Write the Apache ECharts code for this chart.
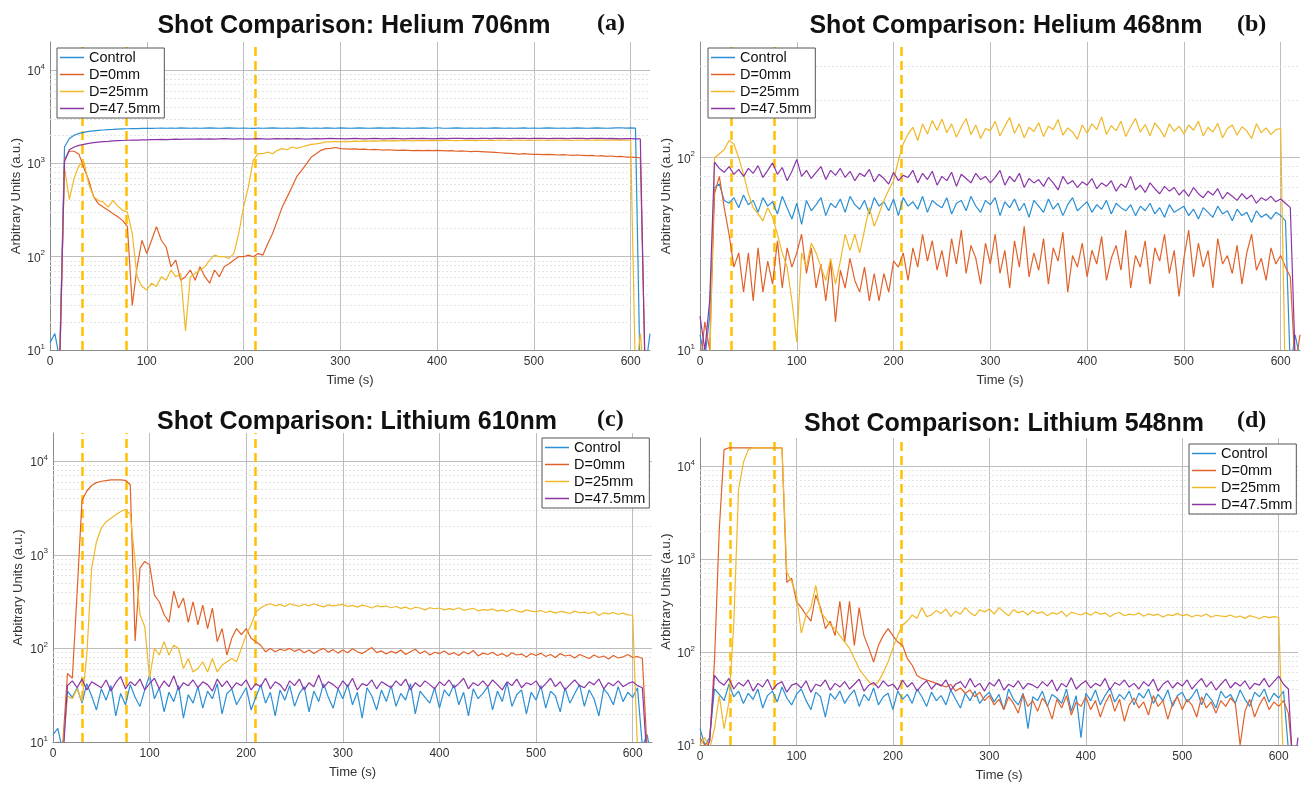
<!DOCTYPE html>
<html>
<head>
<meta charset="utf-8">
<script src="https://cdn.jsdelivr.net/npm/echarts@6/dist/echarts.min.js"></script>
<style>
  html, body { margin: 0; padding: 0; background: #fff; }
  #chart { width: 1303px; height: 785px; }
</style>
</head>
<body>
<div id="chart"></div>
<script>
const seriesNames = ['Control', 'D=0mm', 'D=25mm', 'D=47.5mm'];
const colors = ['#2a8fd4', '#e0622a', '#f0b828', '#8b36a6'];

// sample times (s)
const time = [
  0, 5, 10, 15, 20, 25, 30, 35, 40, 45,
  50, 55, 60, 65, 70, 75, 80, 85, 90, 95,
  100, 105, 110, 115, 120, 125, 130, 135, 140, 145,
  150, 155, 160, 165, 170, 175, 180, 185, 190, 195,
  200, 205, 210, 215, 220, 225, 230, 235, 240, 245,
  250, 255, 260, 265, 270, 275, 280, 285, 290, 295,
  300, 305, 310, 315, 320, 325, 330, 335, 340, 345,
  350, 355, 360, 365, 370, 375, 380, 385, 390, 395,
  400, 405, 410, 415, 420, 425, 430, 435, 440, 445,
  450, 455, 460, 465, 470, 475, 480, 485, 490, 495,
  500, 505, 510, 515, 520, 525, 530, 535, 540, 545,
  550, 555, 560, 565, 570, 575, 580, 585, 590, 595,
  600, 605, 610, 615, 620
];

// (a) Helium 706nm
const aControl = [
  12, 15, 8, 1500, 1850, 2000, 2100, 2150, 2200, 2230,
  2260, 2280, 2300, 2310, 2330, 2340, 2350, 2360, 2360, 2370,
  2380, 2370, 2380, 2390, 2380, 2390, 2380, 2400, 2390, 2380,
  2390, 2380, 2390, 2400, 2390, 2380, 2390, 2400, 2390, 2380,
  2390, 2380, 2370, 2390, 2380, 2390, 2400, 2390, 2380, 2390,
  2380, 2390, 2400, 2390, 2380, 2390, 2380, 2400, 2390, 2380,
  2400, 2390, 2380, 2390, 2400, 2390, 2380, 2390, 2400, 2390,
  2390, 2400, 2390, 2380, 2390, 2380, 2390, 2400, 2390, 2380,
  2410, 2390, 2380, 2390, 2400, 2390, 2380, 2390, 2380, 2390,
  2380, 2390, 2400, 2390, 2380, 2390, 2380, 2390, 2400, 2380,
  2390, 2380, 2390, 2400, 2390, 2380, 2390, 2380, 2390, 2400,
  2390, 2380, 2390, 2400, 2390, 2380, 2390, 2400, 2410, 2390,
  2400, 2390, 4, 6, 15
];
const aD0 = [
  5, 8, 6, 1100, 1350, 1350, 1250, 900, 660, 440,
  370, 340, 315, 290, 268, 245, 210, 30, 78, 150,
  108, 150, 210, 150, 127, 78, 92, 56, 61, 72,
  56, 78, 61, 52, 72, 61, 78, 84, 92, 100,
  100, 104, 100, 108, 104, 138, 177, 245, 340, 435,
  560, 720, 840, 990, 1170, 1270, 1380, 1440, 1450, 1480,
  1440, 1430, 1420, 1430, 1410, 1420, 1400, 1410, 1400, 1390,
  1400, 1390, 1380, 1390, 1380, 1370, 1380, 1370, 1380, 1370,
  1380, 1370, 1360, 1370, 1350, 1360, 1350, 1340, 1350, 1340,
  1330, 1320, 1310, 1300, 1290, 1280, 1270, 1260, 1270, 1260,
  1250, 1250, 1240, 1250, 1240, 1230, 1240, 1230, 1220, 1230,
  1220, 1210, 1220, 1200, 1210, 1190, 1200, 1180, 1190, 1170,
  1170, 1160, 1150, 6, 4
];
const aD25 = [
  4, 6, 8, 900, 410, 700, 950, 1050, 600, 440,
  400, 385, 340, 400, 350, 315, 300, 177, 61, 48,
  44, 52, 48, 61, 56, 72, 61, 66, 16, 61,
  66, 72, 78, 92, 104, 100, 100, 96, 108, 177,
  340, 560, 1080, 1270, 1270, 1320, 1270, 1380, 1440, 1400,
  1500, 1450, 1500, 1550, 1600, 1620, 1650, 1700, 1700, 1720,
  1700, 1720, 1710, 1730, 1720, 1740, 1730, 1740, 1730, 1750,
  1740, 1750, 1740, 1760, 1750, 1740, 1760, 1750, 1760, 1750,
  1760, 1750, 1770, 1760, 1750, 1760, 1770, 1760, 1750, 1770,
  1760, 1770, 1760, 1780, 1770, 1760, 1770, 1780, 1770, 1760,
  1770, 1780, 1770, 1760, 1780, 1770, 1780, 1770, 1760, 1780,
  1770, 1780, 1770, 1790, 1780, 1770, 1780, 1790, 1780, 1770,
  1770, 5, 15, 4, 3
];
const aD47 = [
  6, 9, 7, 1050, 1400, 1500, 1560, 1600, 1640, 1670,
  1690, 1710, 1720, 1740, 1750, 1760, 1770, 1780, 1780, 1790,
  1790, 1800, 1800, 1810, 1800, 1810, 1820, 1810, 1820, 1820,
  1820, 1830, 1820, 1830, 1820, 1830, 1840, 1830, 1820, 1830,
  1830, 1820, 1830, 1840, 1830, 1820, 1830, 1840, 1830, 1840,
  1830, 1840, 1830, 1820, 1830, 1840, 1830, 1840, 1850, 1840,
  1840, 1830, 1840, 1850, 1840, 1830, 1840, 1850, 1840, 1830,
  1840, 1850, 1840, 1830, 1840, 1850, 1840, 1850, 1840, 1830,
  1840, 1850, 1840, 1850, 1860, 1850, 1840, 1850, 1840, 1850,
  1850, 1840, 1850, 1860, 1850, 1840, 1850, 1860, 1850, 1840,
  1850, 1860, 1850, 1840, 1850, 1860, 1850, 1840, 1850, 1860,
  1850, 1840, 1850, 1860, 1850, 1840, 1850, 1840, 1830, 1840,
  1840, 1830, 1830, 5, 7
];

// (b) Helium 468nm
const bControl = [
  12, 9, 15, 70, 73, 60, 58, 62, 55, 64,
  57, 60, 52, 62, 56, 59, 51, 63, 55, 48,
  58, 45, 60, 53, 57, 62, 50, 58, 55, 61,
  52, 63, 57, 54, 60, 51, 62, 56, 59, 53,
  61, 50, 62, 56, 59, 54, 63, 52, 60, 57,
  55, 62, 51, 58, 60, 53, 63, 56, 52, 60,
  57, 62, 50, 59, 55, 61, 53, 58, 49, 60,
  56, 52, 61, 54, 58, 50, 57, 62, 53, 56,
  59, 52, 57, 54, 60, 51, 58, 55, 53, 57,
  50, 56, 53, 58, 51, 55, 49, 57, 52, 54,
  56, 50, 54, 48, 55, 52, 49, 56, 51, 53,
  47, 54, 50, 52, 46, 53, 49, 51, 48, 52,
  50, 47, 8, 12, 9
];
const bD0 = [
  8, 14, 10, 65, 80, 55, 40, 27, 32, 20,
  32, 18, 34, 20, 29, 22, 37, 21, 34, 27,
  32, 40, 25, 34, 21, 28, 18, 29, 14, 26,
  21, 30, 23, 20, 27, 18, 25, 18, 25, 20,
  29, 27, 32, 23, 34, 27, 40, 29, 37, 26,
  33, 24, 38, 28, 42, 25, 35, 30, 22, 36,
  28, 40, 25, 33, 21, 37, 27, 44, 24, 32,
  26, 38, 22, 34, 29, 41, 20, 31, 27, 36,
  24, 33, 28, 39, 23, 30, 35, 26, 42, 21,
  31, 27, 37, 22, 34, 29, 40, 25, 33, 19,
  30, 42, 24, 36, 27, 33, 21, 38, 28, 31,
  25, 35, 22, 32, 40, 26, 30, 23, 34, 28,
  31, 27, 24, 8, 12
];
const bD25 = [
  5, 7, 8, 100, 105, 110, 123, 118, 100, 82,
  65, 55, 51, 47, 55, 49, 40, 32, 27, 18,
  11, 32, 27, 36, 32, 27, 23, 30, 22, 29,
  40, 33, 40, 32, 42, 55, 44, 51, 60, 68,
  76, 97, 118, 133, 144, 123, 150, 133, 156, 139,
  159, 135, 150, 128, 145, 160, 132, 148, 126, 142,
  138, 155, 130, 146, 162, 134, 150, 127, 144, 137,
  152, 129, 146, 140, 158, 131, 143, 136, 125, 148,
  134, 150, 140, 163, 132, 147, 138, 155, 129, 145,
  160, 136, 149, 130, 152, 141, 128, 150, 137, 146,
  133, 148, 139, 155, 130, 144, 136, 151, 127, 142,
  148, 131, 145, 138, 126, 150, 135, 143, 132, 140,
  142, 6, 10, 4, 3
];
const bD47 = [
  15, 10, 18, 95, 88, 84, 90, 82, 87, 80,
  88, 83, 91, 79, 86, 94, 82, 89, 76, 85,
  98, 80, 86, 78, 84, 90, 77, 86, 81, 88,
  79, 85, 76, 83, 80, 87, 75, 82, 78, 73,
  84, 76, 81, 79, 86, 74, 83, 77, 85, 72,
  80, 76, 84, 71, 82, 78, 74, 83, 77, 80,
  74, 79, 86, 72, 80, 75, 83, 70, 78, 74,
  77, 71, 79, 74, 68, 80, 73, 76, 70, 75,
  72, 78, 69, 74, 71, 76, 67, 73, 70, 80,
  68, 72, 66, 74, 69, 65, 71, 67, 70, 64,
  68, 63, 70, 65, 62, 67, 64, 69, 61, 66,
  63, 60, 65, 61, 64, 58, 62, 60, 63, 59,
  61, 58, 55, 9, 7
];

// (c) Lithium 610nm
const cControl = [
  12, 14, 8, 35, 30, 38, 26, 42, 31, 22,
  37, 28, 40, 19, 33, 25, 41, 30, 24, 36,
  52, 29, 38, 21, 34, 27, 40, 18, 32, 26,
  39, 23, 35, 29, 42, 20, 33, 37, 25, 31,
  38, 22, 30, 41, 26, 34, 19, 36, 28, 40,
  24, 33, 39, 21, 35, 27, 42, 30, 23, 37,
  29, 41, 25, 34, 18, 38, 31, 22, 36, 27,
  40, 24, 33, 28, 42, 20, 35, 30, 26, 38,
  23, 36, 31, 41, 25, 34, 19, 37, 29, 33,
  39, 22, 35, 27, 43, 24, 32, 36, 20, 34,
  28, 40, 23, 35, 31, 21, 38, 26, 33, 41,
  24, 36, 29, 19, 37, 32, 25, 39, 27, 34,
  30, 38, 9, 12, 6
];
const cD0 = [
  6, 8, 9, 54, 48, 400, 3800, 4800, 5500, 5900,
  6100, 6200, 6300, 6300, 6300, 6250, 5600, 120, 720, 850,
  780, 370, 315, 230, 190, 410, 270, 345, 190, 315,
  178, 290, 163, 270, 118, 163, 85, 128, 163, 140,
  163, 128, 118, 108, 92, 100, 92, 98, 95, 100,
  93, 98, 90, 96, 88, 95, 100, 91, 97, 89,
  96, 90, 99, 92, 88, 95, 102, 90, 94, 87,
  93, 89, 96, 86, 92, 98, 88, 94, 85, 91,
  88, 94, 86, 90, 84, 92, 87, 95, 83, 89,
  86, 91, 84, 88, 82, 90, 85, 87, 81, 88,
  84, 89, 82, 86, 80, 88, 83, 85, 79, 86,
  82, 78, 85, 80, 83, 77, 84, 79, 81, 86,
  80, 82, 78, 8, 5
];
const cD25 = [
  5, 7, 8, 31, 29, 37, 27, 85, 720, 1380,
  1930, 2260, 2460, 2680, 2900, 3050, 2700, 850, 230, 170,
  48, 100, 85, 118, 85, 108, 100, 61, 78, 56,
  61, 72, 56, 78, 56, 66, 72, 78, 72, 100,
  140, 178, 245, 270, 290, 300, 285, 295, 280, 300,
  290, 282, 296, 285, 300, 288, 278, 292, 285, 290,
  295, 280, 288, 276, 290, 282, 270, 286, 278, 284,
  272, 280, 268, 276, 262, 275, 270, 258, 272, 265,
  270, 258, 266, 260, 272, 255, 262, 268, 252, 260,
  256, 264, 250, 258, 246, 262, 252, 244, 258, 250,
  246, 254, 242, 250, 238, 248, 244, 236, 250, 240,
  244, 236, 246, 225, 240, 234, 242, 230, 238, 228,
  226, 8, 4, 10, 3
];
const cD47 = [
  8, 10, 6, 40, 45, 38, 47, 36, 44, 41,
  38, 46, 35, 43, 50, 37, 44, 40, 47, 36,
  42, 48, 37, 45, 39, 51, 36, 43, 40, 46,
  38, 44, 41, 35, 47, 39, 45, 37, 43, 40,
  46, 36, 42, 39, 48, 37, 44, 41, 35, 45,
  40, 47, 36, 43, 39, 52, 38, 44, 41, 37,
  45, 39, 48, 36, 42, 40, 46, 37, 44, 41,
  38, 45, 40, 47, 36, 43, 39, 45, 41, 37,
  44, 40, 46, 38, 42, 48, 37, 43, 40, 45,
  39, 46, 41, 36, 44, 40, 47, 38, 43, 41,
  45, 37, 42, 48, 39, 44, 36, 41, 46, 40,
  38, 44, 41, 47, 37, 43, 40, 45, 39, 42,
  44, 40, 38, 6, 4
];

// (d) Lithium 548nm
const dControl = [
  15, 10, 12, 40, 35, 30, 45, 33, 38, 28,
  36, 31, 40, 25, 34, 38, 29, 42, 32, 27,
  35, 40, 30, 24, 37, 33, 20, 36, 31, 38,
  28, 34, 39, 26, 35, 30, 41, 27, 33, 36,
  24, 38, 31, 35, 28, 40, 33, 26, 37, 30,
  34, 27, 39, 31, 25, 36, 30, 38, 28, 33,
  37, 29, 35, 24, 40, 31, 27, 36, 15, 33,
  30, 38, 26, 35, 32, 28, 40, 23, 34, 12,
  36, 30, 39, 27, 34, 41, 29, 35, 31, 38,
  27, 36, 32, 40, 28, 35, 30, 39, 26, 34,
  37, 29, 33, 40, 27, 36, 31, 25, 38, 32,
  35, 28, 39, 31, 26, 37, 33, 40, 29, 36,
  32, 38, 9, 6, 4
];
const dD0 = [
  12, 10, 11, 78, 2100, 15000, 15700, 15700, 15700, 15700,
  15700, 15700, 15700, 15700, 15700, 15700, 15700, 15700, 560, 620,
  350, 300, 250, 215, 410, 300, 178, 215, 150, 350,
  128, 350, 118, 300, 150, 110, 78, 118, 150, 178,
  150, 128, 118, 85, 72, 56, 52, 50, 48, 46,
  44, 42, 45, 38, 41, 36, 39, 33, 37, 30,
  34, 27, 31, 24, 33, 28, 22, 35, 26, 30,
  23, 32, 27, 19, 31, 25, 34, 21, 29, 26,
  33, 24, 30, 20, 28, 35, 23, 31, 18, 27,
  32, 25, 29, 21, 34, 26, 30, 19, 28, 33,
  24, 31, 27, 20, 33, 25, 29, 22, 30, 26,
  32, 28, 10, 23, 31, 20, 27, 33, 24, 29,
  26, 30, 22, 6, 4
];
const dD25 = [
  10, 12, 9, 15, 34, 15, 29, 200, 5600, 10900,
  15000, 15700, 15700, 15700, 15700, 15700, 15700, 15700, 720, 570,
  410, 160, 250, 300, 520, 270, 230, 195, 178, 150,
  128, 110, 85, 66, 56, 48, 44, 48, 60, 78,
  110, 150, 195, 215, 250, 230, 300, 240, 250, 280,
  260, 290, 240, 275, 255, 300, 265, 245, 285, 270,
  290, 255, 300, 270, 245, 285, 265, 275, 250, 280,
  260, 270, 245, 265, 255, 275, 240, 268, 258, 250,
  265, 248, 270, 255, 262, 240, 258, 266, 245, 255,
  250, 262, 242, 258, 248, 255, 238, 252, 246, 260,
  245, 254, 238, 250, 242, 256, 236, 248, 244, 240,
  250, 236, 244, 230, 246, 238, 228, 242, 234, 240,
  235, 5, 3, 10, 4
];
const dD47 = [
  9, 8, 11, 56, 48, 44, 52, 40, 47, 43,
  50, 38, 46, 42, 51, 39, 45, 48, 37, 44,
  46, 41, 49, 37, 45, 43, 50, 39, 46, 42,
  48, 40, 45, 51, 38, 44, 47, 41, 49, 43,
  45, 39, 50, 42, 47, 38, 44, 49, 40, 46,
  43, 50, 39, 45, 48, 41, 52, 42, 46, 38,
  47, 43, 51, 39, 45, 42, 49, 40, 46, 44,
  41, 48, 43, 50, 38, 46, 42, 53, 40, 45,
  49, 41, 46, 43, 52, 39, 47, 44, 50, 42,
  46, 40, 48, 43, 51, 38, 45, 49, 41, 47,
  43, 50, 40, 46, 52, 42, 48, 39, 45, 51,
  41, 47, 43, 49, 40, 46, 44, 52, 42, 48,
  55, 45, 40, 5, 12
];

// dashed event markers (s)
const dashA = [33, 79, 212];
const dashB = [32, 77, 208];
const dashC = [30, 76, 209];
const dashD = [31, 77, 209];

// minor log grid values
const minorWide = [20, 30, 40, 50, 60, 70, 80, 90, 200, 300, 400, 500, 600, 700, 800, 900,
  2000, 3000, 4000, 5000, 6000, 7000, 8000, 9000];
const minorB = [20, 30, 40, 50, 60, 70, 80, 90, 200, 300];

const panels = [
  { title: 'Shot Comparison: Helium 706nm', tag: '(a)', yMax: 20000, minor: minorWide, dash: dashA,
    lines: [aControl, aD0, aD25, aD47] },
  { title: 'Shot Comparison: Helium 468nm', tag: '(b)', yMax: 400, minor: minorB, dash: dashB,
    lines: [bControl, bD0, bD25, bD47] },
  { title: 'Shot Comparison: Lithium 610nm', tag: '(c)', yMax: 20000, minor: minorWide, dash: dashC,
    lines: [cControl, cD0, cD25, cD47] },
  { title: 'Shot Comparison: Lithium 548nm', tag: '(d)', yMax: 20000, minor: minorWide, dash: dashD,
    lines: [dControl, dD0, dD25, dD47] },
];

const layout = [
  { grid: { left: 50, top: 42, width: 600, height: 308 }, titleX: 349, titleY: 9, tagX: 592, tagY: 7,
    legend: { left: 57, top: 48 }, nameGap: 25 },
  { grid: { left: 700, top: 42, width: 600, height: 308 }, titleX: 1001, titleY: 9, tagX: 1232, tagY: 8,
    legend: { left: 708, top: 48 }, nameGap: 25 },
  { grid: { left: 53, top: 433, width: 599, height: 309 }, titleX: 352, titleY: 405, tagX: 592, tagY: 403,
    legend: { left: 542, top: 438 }, nameGap: 28 },
  { grid: { left: 700, top: 438, width: 598, height: 307 }, titleX: 999, titleY: 407, tagX: 1232, tagY: 404,
    legend: { left: 1189, top: 444 }, nameGap: 25 },
];

const axisGray = '#8c8c8c';
const gridGray = '#bdbdbd';

const option = {
  backgroundColor: '#fff',
  animation: false,
  textStyle: { fontFamily: 'Liberation Sans, Arial, sans-serif' },
  title: [],
  legend: [],
  grid: [],
  xAxis: [],
  yAxis: [],
  series: [],
};

panels.forEach((p, i) => {
  const L = layout[i];
  option.grid.push(L.grid);
  option.title.push({
    text: p.title, left: L.titleX, top: L.titleY, textAlign: 'center',
    textStyle: { fontSize: 25, fontWeight: 'bold', color: '#111', fontFamily: 'Liberation Sans' },
  });
  option.title.push({
    text: p.tag, left: L.tagX, top: L.tagY,
    textStyle: { fontSize: 24, fontWeight: 'bold', color: '#111', fontFamily: 'Liberation Serif' },
  });
  option.legend.push({
    data: seriesNames, orient: 'vertical', left: L.legend.left, top: L.legend.top, z: 6,
    icon: 'rect', itemWidth: 24, itemHeight: 1.5, itemGap: 2,
    backgroundColor: '#fff', borderColor: '#555', borderWidth: 1, borderRadius: 0,
    padding: [2, 4, 2, 3],
    textStyle: { fontSize: 14.5, color: '#111', fontFamily: 'Liberation Sans' },
  });
  option.xAxis.push({
    type: 'value', gridIndex: i, min: 0, max: 620, interval: 100,
    name: 'Time (s)', nameLocation: 'middle', nameGap: 24,
    nameTextStyle: { fontSize: 13, color: '#333' },
    axisLine: { show: true, onZero: false, lineStyle: { color: axisGray } },
    axisTick: { show: false },
    axisLabel: { fontSize: 12, color: '#333', margin: 6, showMaxLabel: false },
    splitLine: { show: true, showMaxLine: false, lineStyle: { color: gridGray, width: 1 } },
  });
  option.yAxis.push({
    type: 'log', logBase: 10, gridIndex: i, min: 10, max: p.yMax,
    name: 'Arbitrary Units (a.u.)', nameLocation: 'middle', nameGap: L.nameGap,
    nameTextStyle: { fontSize: 13, color: '#333' },
    axisLine: { show: true, lineStyle: { color: axisGray } },
    axisTick: { show: false },
    axisLabel: {
      margin: 5, showMaxLabel: false,
      formatter: v => '{b|10}{s|' + Math.round(Math.log10(v)) + '}',
      rich: {
        b: { fontSize: 12, color: '#333', verticalAlign: 'bottom' },
        s: { fontSize: 8, color: '#333', verticalAlign: 'bottom', padding: [0, 0, 7, 0] },
      },
    },
    splitLine: { show: true, showMaxLine: false, lineStyle: { color: gridGray, width: 1 } },
  });
  p.lines.forEach((vals, k) => {
    const s = {
      name: seriesNames[k], type: 'line', xAxisIndex: i, yAxisIndex: i,
      data: time.map((t, j) => [t, vals[j]]),
      symbol: 'none', showSymbol: false, clip: true,
      color: colors[k],
      lineStyle: { color: colors[k], width: 1.2 },
      emphasis: { disabled: true },
    };
    if (k === 0) {
      s.markLine = {
        silent: true, symbol: ['none', 'none'], z: 1, label: { show: false },
        lineStyle: { color: '#e4e4e4', width: 1, type: [2, 2] },
        data: p.minor.map(v => ({ yAxis: v })),
      };
    }
    if (k === 3) {
      s.markLine = {
        silent: true, symbol: ['none', 'none'], z: 3, label: { show: false },
        lineStyle: { color: '#ffc000', width: 2.5, type: [9, 5] },
        data: p.dash.map(v => ({ xAxis: v })),
      };
    }
    option.series.push(s);
  });
});

const chart = echarts.init(document.getElementById('chart'));
chart.setOption(option);
window.addEventListener('resize', () => chart.resize());
</script>
</body>
</html>
